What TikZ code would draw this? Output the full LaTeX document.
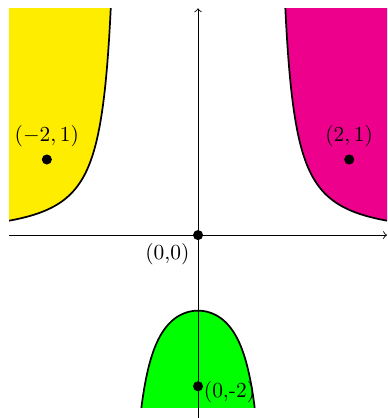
\documentclass[tikz,border=0pt]{standalone}
\usepackage{tikz}
\usetikzlibrary{positioning}

\definecolor{regionyellow}{RGB}{255,237,0}
\definecolor{regionmagenta}{RGB}{236,0,140}
\definecolor{regiongreen}{RGB}{0,255,0}

\begin{document}
\begin{tikzpicture}[
    x=1.24cm,
    y=1.24cm,
    boundary/.style={
        thick,
        black,
        samples=120
    },
    axis/.style={
        ->,
        thin
    },
    dot/.style={
        circle,
        fill=black,
        inner sep=0pt,
        minimum size=4.7pt
    }
]

\useasboundingbox (-2.62,-2.42) rectangle (2.5,3.11);

% ------------------------------------------------------------------
% REGIONS
% ------------------------------------------------------------------

\begin{scope}
\clip (-2.5,-2.5) rectangle (2.5,3);

\fill[regionyellow] (-2.5,3.5)
    -- plot[samples=120, domain=-2.5:-1.13] (\x,{1/(\x*\x-1)}) -- cycle;

\fill[regionmagenta] (2.5,3.5)
    -- plot[samples=120, domain=2.5:1.13] (\x,{1/(\x*\x-1)}) -- cycle;

\draw[boundary, domain=-2.5:-1.13] plot (\x,{1/(\x*\x-1)});
\draw[boundary, domain=1.13:2.5] plot (\x,{1/(\x*\x-1)});
\end{scope}

\fill[regiongreen]
    plot[samples=120, domain=-0.75:0.75] (\x,{1/(\x*\x-1)}) -- cycle;
\draw[boundary, domain=-0.75:0.75] plot (\x,{1/(\x*\x-1)});

% ------------------------------------------------------------------
% AXES
% ------------------------------------------------------------------

\coordinate (xstart) at (-2.5,0);
\coordinate (xend) at (2.5,0);
\coordinate (ystart) at (0,-2.5);
\coordinate (yend) at (0,3);

\draw[axis] (xstart) -- (xend);
\draw[axis] (ystart) -- (yend);

% ------------------------------------------------------------------
% POINTS
% ------------------------------------------------------------------

\node[dot, label={above:$(-2,1)$}] (left) at (-2,1) {};
\node[dot, label={above:$(2,1)$}] (right) at (2,1) {};
\node[dot, label={[inner sep=2pt]below left:(0,0)}] (origin) at (0,0) {};
\node[dot, label={[inner sep=0pt, yshift=-2.8pt]right:(0,-2)}] (bottom) at (0,-2) {};

\end{tikzpicture}
\end{document}
